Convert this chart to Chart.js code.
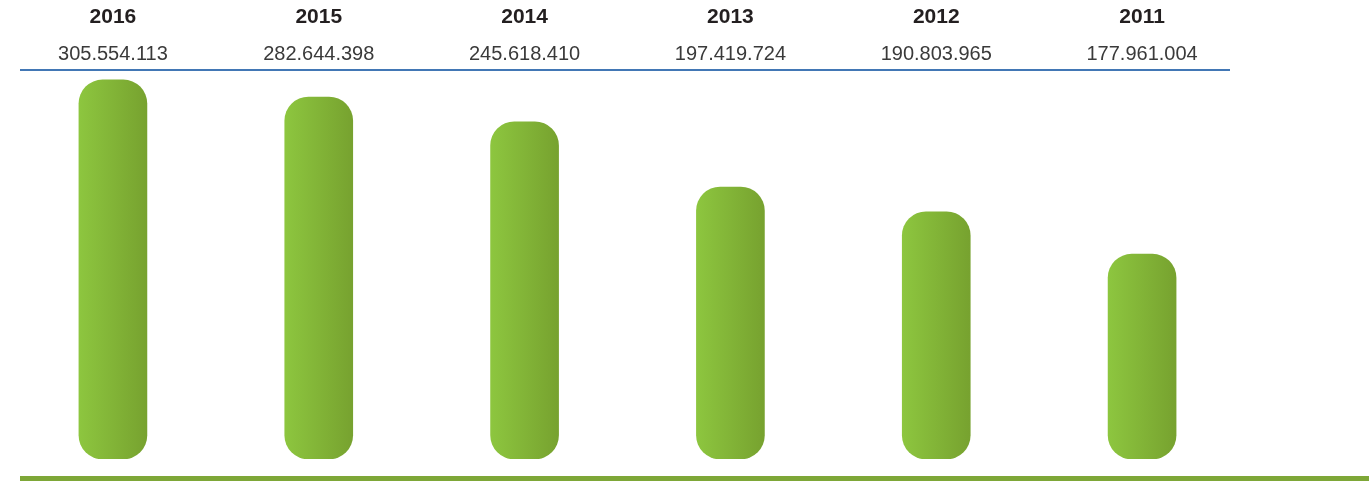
<!DOCTYPE html>
<html>
<head>
<meta charset="utf-8">
<script src="https://cdn.jsdelivr.net/npm/chart.js@4"></script>
<style>
    html, body { margin: 0; padding: 0; background: #ffffff; }
    #wrap { width: 1369px; height: 483px; }
</style>
</head>
<body>
<div id="wrap"><canvas id="barsChart"></canvas></div>
<script>
// years shown on top, printed totals under them
const years  = ["2016", "2015", "2014", "2013", "2012", "2011"];
const totals = ["305.554.113", "282.644.398", "245.618.410", "197.419.724", "190.803.965", "177.961.004"];

// bar levels as drawn in the picture (percent of the plot height, not to scale with totals)
const barLevels = [97.7, 93.3, 86.9, 70.1, 63.7, 52.8];


// header: years + totals above each bar, blue rule, green base rule
const headerPlugin = {
    id: "header",
    beforeDatasetsDraw(chart){
        const ctx  = chart.ctx;
        const meta = chart.getDatasetMeta(0);
        meta.data.forEach(bar => {
            const half = bar.width / 2;
            const g = ctx.createLinearGradient(bar.x - half, 0, bar.x + half, 0);
            g.addColorStop(0, "#8dc63f");
            g.addColorStop(1, "#77a22f");
            bar.options.backgroundColor = g;
        });
    },
    afterDraw(chart){
        const ctx  = chart.ctx;
        const area = chart.chartArea;
        const x    = chart.scales.x;

        ctx.save();
        ctx.textAlign = "center";
        ctx.textBaseline = "alphabetic";

        years.forEach((year, i) => {
            const px = x.getPixelForValue(i);
            ctx.fillStyle = "#231f20";
            ctx.font = "bold 21px 'Liberation Sans', Arial, sans-serif";
            ctx.fillText(year, px, 23);
            ctx.fillStyle = "#3a3a3a";
            ctx.font = "20px 'Liberation Sans', Arial, sans-serif";
            ctx.fillText(totals[i], px, 60);
        });

        // blue rule under the totals
        ctx.strokeStyle = "#4277b5";
        ctx.lineWidth = 2;
        ctx.beginPath();
        ctx.moveTo(area.left + 10, area.top - 1);
        ctx.lineTo(area.right - 15, area.top - 1);
        ctx.stroke();

        // green base line
        ctx.strokeStyle = "#7ea737";
        ctx.lineWidth = 5;
        ctx.beginPath();
        ctx.moveTo(area.left + 10, area.bottom + 19.5);
        ctx.lineTo(chart.width, area.bottom + 19.5);
        ctx.stroke();
        ctx.restore();
    }
};


new Chart(document.getElementById("barsChart"), {
    type: "bar",
    data: {
        labels: years,
        datasets: [{
            data: barLevels,
            backgroundColor: () => "#85b838",
            borderRadius: 24,
            borderSkipped: false,
            barThickness: 68
        }]
    },
    options: {
        responsive: true,
        maintainAspectRatio: false,
        animation: false,
        layout: {
            padding: { top: 71, bottom: 24, left: 10, right: 124 }
        },
        plugins: {
            legend:  { display: false },
            tooltip: { enabled: false }
        },
        scales: {
            x: { display: false },
            y: { display: false, min: 0, max: 100 }
        }
    },
    plugins: [headerPlugin]
});
</script>
</body>
</html>
